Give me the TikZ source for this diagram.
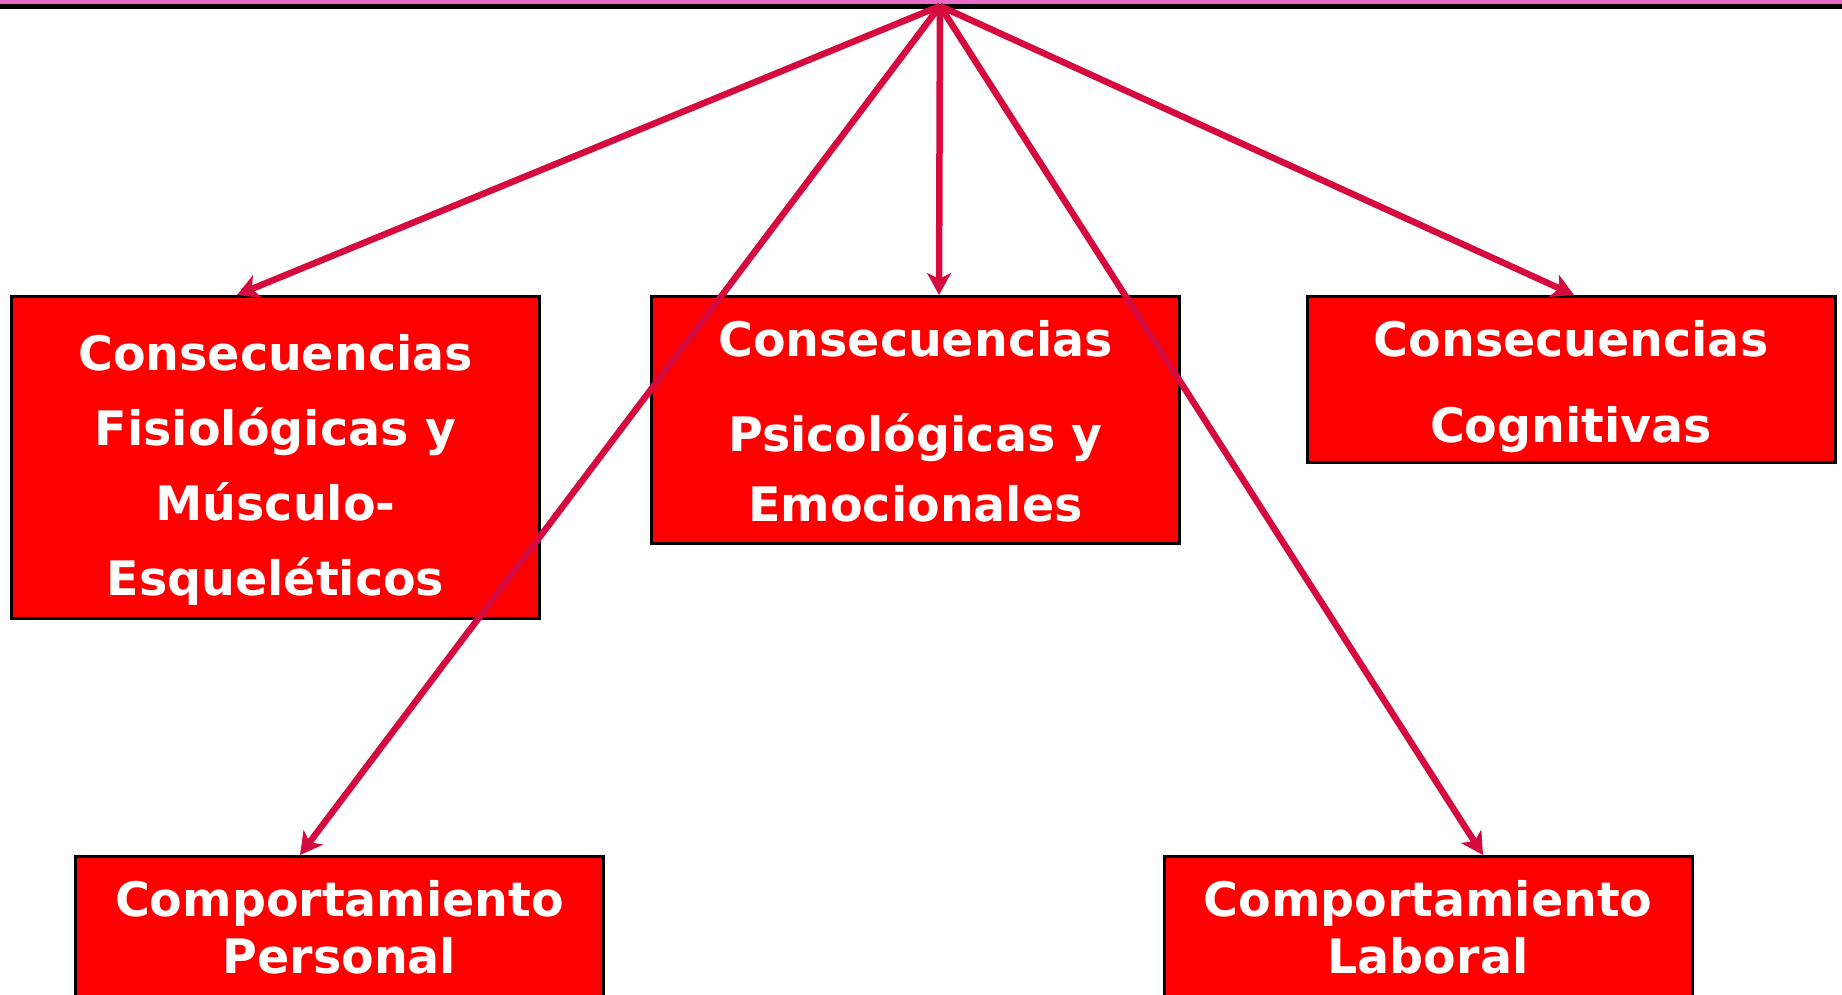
\documentclass[tikz,border=0pt]{standalone}
\usepackage{fontspec}
\newfontfamily\boxfont{DejaVu Sans}
\usetikzlibrary{arrows.meta}
\definecolor{boxred}{RGB}{255,0,0}
\definecolor{arrowred}{RGB}{213,10,62}
\definecolor{toppink}{RGB}{230,108,200}
\tikzset{
  conbox/.style={draw=black, line width=3pt, fill=boxred, rectangle,
    minimum width=528pt, inner sep=0pt},
  boxtext/.style={text=white, align=center, inner sep=0pt, anchor=north,
    font={\boxfont\bfseries\fontsize{47.5pt}{57pt}\selectfont}},
  conarrow/.style={draw=arrowred, line width=6.5pt,
    -{Stealth[length=22pt, width=24pt, inset=6pt]}}
}
\begin{document}
\begin{tikzpicture}[x=1pt, y=-1pt]
\useasboundingbox (0,0) rectangle (1842,994);
\fill[white] (0,0) rectangle (1842,994);
% top rule
\fill[toppink] (0,0) rectangle (1842,3.5);
\fill[black] (0,3.5) rectangle (1842,9);
\coordinate (apex) at (940,6);
% boxes
\node[conbox, minimum height=322pt] (b1) at (275.5,457.5) {};
\node[conbox, minimum height=247pt] (b2) at (915.5,420) {};
\node[conbox, minimum height=166pt] (b3) at (1571,379.5) {};
\node[conbox, minimum height=200pt, anchor=north] (b4) at (339.5,855) {};
\node[conbox, minimum height=200pt, anchor=north] (b5) at (1428,855) {};
% texts
\node[boxtext] (t1) at (275.5,334.7) {Consecuencias\\[17.8pt]Fisiológicas y\\[17.8pt]Músculo-\\[17.8pt]Esqueléticos};
\node[boxtext] (t2) at (915.5,320) {Consecuencias\\[38.7pt]Psicológicas y\\[13pt]Emocionales};
\node[boxtext] (t3) at (1571,320) {Consecuencias\\[29pt]Cognitivas};
\node[boxtext] (t4) at (339.5,880) {Comportamiento\\Personal};
\node[boxtext] (t5) at (1428,880) {Comportamiento\\Laboral};
% arrows
\draw[conarrow] (apex) -- ([xshift=-38.5pt]b1.north);
\draw[conarrow] (apex) -- ([xshift=23.5pt]b2.north);
\draw[conarrow] (apex) -- ([xshift=3pt]b3.north);
\draw[conarrow] (apex) -- ([xshift=-39.5pt]b4.north);
\draw[conarrow] (apex) -- ([xshift=55pt]b5.north);
\end{tikzpicture}
\end{document}
